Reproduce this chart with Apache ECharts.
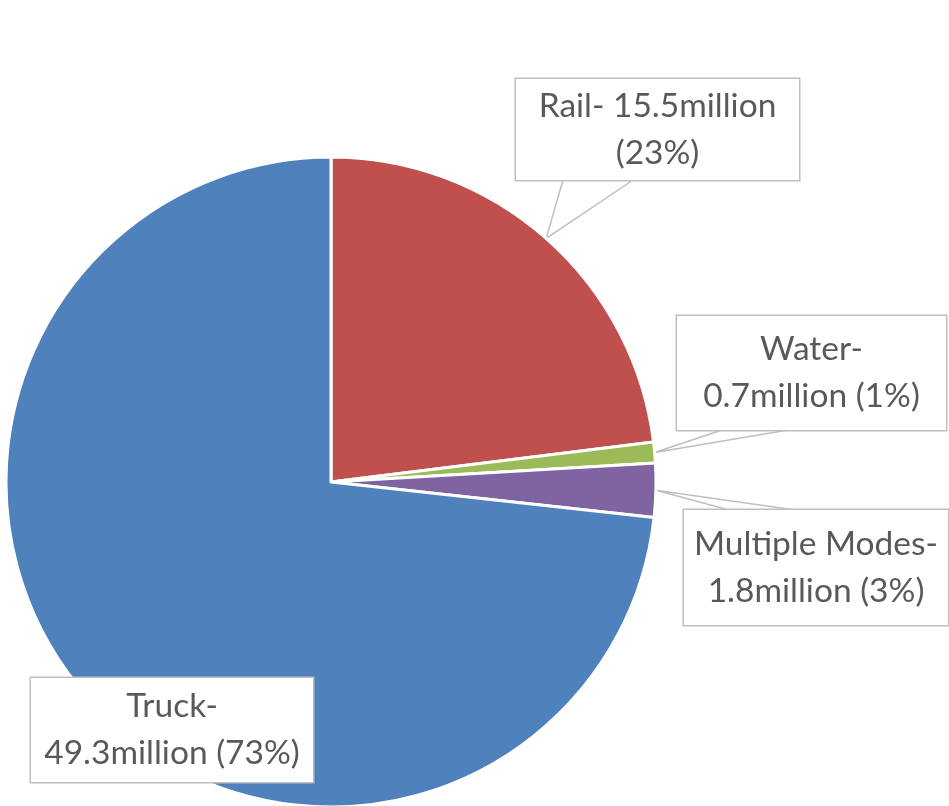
<!DOCTYPE html>
<html>
<head>
<meta charset="utf-8">
<script src="https://cdn.jsdelivr.net/npm/echarts@6/dist/echarts.min.js"></script>
<style>
html,body{margin:0;padding:0;background:#fff;}
#chart{width:949px;height:806px;}
</style>
</head>
<body>
<div id="chart"></div>
<script>
// ---- data ----
var categories = ['Rail', 'Water', 'Multiple Modes', 'Truck'];
var values = [15.5, 0.7, 1.8, 49.3];
var colors = ['#C0504D', '#9BBB59', '#8064A2', '#4F81BD'];

// ---- label presentation (positions/sizes of the callout boxes) ----
// break: where the line break goes in the label text
var labelBreak = ['beforePct', 'afterName', 'afterName', 'afterName'];
// box centre x, centre y, width, height; callout base points (on box edge)
var labelBoxes = [
  {cx: 657.5, cy: 129.5, w: 283, h: 101, base: [[563, 180], [633, 180]]},
  {cx: 811.5, cy: 373,   w: 269, h: 114, base: [[722, 430], [788, 430]]},
  {cx: 816,   cy: 567.5, w: 264, h: 115, base: [[729, 510], [795, 510]]},
  {cx: 172,   cy: 730,   w: 282, h: 104, base: null}
];

var chart = echarts.init(document.getElementById('chart'), null, {renderer: 'canvas'});

var seriesData = categories.map(function (c, i) {
  var b = labelBoxes[i];
  var padV = (b.h - 94) / 2;
  return {
    name: c,
    value: values[i],
    itemStyle: {color: colors[i]},
    label: {width: b.w, padding: [padV + 2, 0, padV - 2, 0]},
    labelLine: {show: !!b.base}
  };
});

chart.setOption({
  animation: false,
  series: [{
    type: 'pie',
    center: [331, 482],
    radius: 325,
    startAngle: 90,
    clockwise: true,
    avoidLabelOverlap: false,
    emphasis: {disabled: true},
    itemStyle: {borderColor: '#ffffff', borderWidth: 3},
    data: seriesData,
    label: {
      show: true,
      position: 'outside',
      fontFamily: 'Lato',
      fontSize: 33.5,
      lineHeight: 47,
      color: '#595959',
      align: 'center',
      backgroundColor: '#ffffff',
      borderColor: '#BFBFBF',
      borderWidth: 1.5,
      formatter: function (p) {
        var pct = Math.round(p.percent) + '%';
        if (labelBreak[p.dataIndex] === 'beforePct') {
          return p.name + '- ' + p.value + 'million\n(' + pct + ')';
        }
        return p.name + '-\n' + p.value + 'million (' + pct + ')';
      }
    },
    labelLine: {
      lineStyle: {color: '#BFBFBF', width: 1.5}
    },
    labelLayout: function (params) {
      var b = labelBoxes[params.dataIndex];
      var out = {x: b.cx, y: b.cy, align: 'center', verticalAlign: 'middle'};
      if (b.base && params.labelLinePoints && params.labelLinePoints[0]) {
        var tip = params.labelLinePoints[0];
        out.labelLinePoints = [b.base[0], tip, b.base[1]];
      }
      return out;
    }
  }]
});
</script>
</body>
</html>
